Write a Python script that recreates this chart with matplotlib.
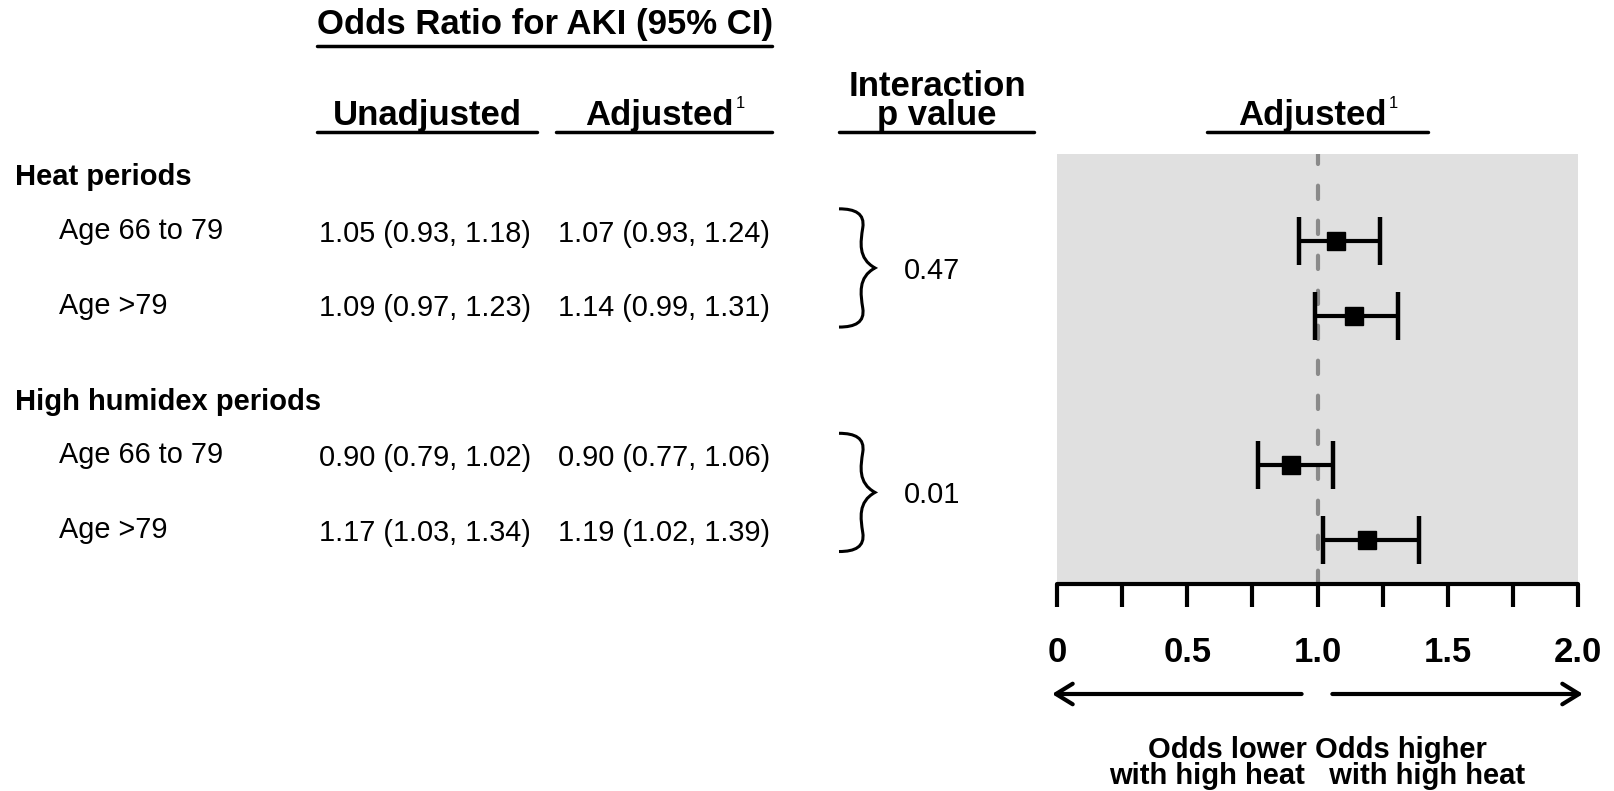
import matplotlib
matplotlib.use('Agg')
import matplotlib.pyplot as plt
import matplotlib.transforms as mtransforms
from matplotlib.path import Path
from matplotlib.patches import PathPatch, FancyArrowPatch
import numpy as np

plt.rcParams['font.family'] = ['Liberation Sans', 'DejaVu Sans']

# ---------------- data ----------------
groups = ['Heat periods', 'High humidex periods']
subgroups = ['Age 66 to 79', 'Age >79', 'Age 66 to 79', 'Age >79']
unadj_or = [1.05, 1.09, 0.90, 1.17]
unadj_lo = [0.93, 0.97, 0.79, 1.03]
unadj_hi = [1.18, 1.23, 1.02, 1.34]
adj_or = [1.07, 1.14, 0.90, 1.19]
adj_lo = [0.93, 0.99, 0.77, 1.02]
adj_hi = [1.24, 1.31, 1.06, 1.39]
p_interaction = ['0.47', '0.01']
row_pos = [1, 2, 4, 5]
group_pos = [0.12, 3.12]
pair_rows = [(1, 2), (4, 5)]
xticks = [0, 0.25, 0.5, 0.75, 1.0, 1.25, 1.5, 1.75, 2.0]
xticklabels = ['0', '', '0.5', '', '1.0', '', '1.5', '', '2.0']

W, H = 1614, 791
fig = plt.figure(figsize=(W / 100, H / 100), dpi=100)

# forest panel
px0, px1, py0, py1 = 1057, 1578, 154, 584
ax = fig.add_axes([px0 / W, 1 - py1 / H, (px1 - px0) / W, (py1 - py0) / H])
ax.set_facecolor('#e0e0e0')
ax.set_xlim(0, 2)
ax.set_ylim(5.584, -0.163)
ax.axvline(1.0, color='#8a8a8a', lw=3, linestyle=(0, (3.2, 5.2)),
           dash_capstyle='round', zorder=1)
xerr = [np.subtract(adj_or, adj_lo), np.subtract(adj_hi, adj_or)]
ax.errorbar(adj_or, row_pos, xerr=xerr, fmt='s', color='black', ms=13,
            elinewidth=3, capsize=17, capthick=3.2, zorder=3)
for s in ['top', 'left', 'right']:
    ax.spines[s].set_visible(False)
ax.spines['bottom'].set_linewidth(3)
ax.spines['bottom'].set_capstyle('round')
ax.set_yticks([])
ax.set_xticks(xticks)
ax.set_xticklabels(xticklabels, fontsize=25, fontweight='bold')
ax.tick_params(axis='x', direction='out', length=16.5, width=3, pad=21)

# overlay pixel axes for text
tax = fig.add_axes([0, 0, 1, 1])
tax.set_xlim(0, W)
tax.set_ylim(H, 0)
tax.axis('off')
tax.patch.set_visible(False)
tax.set_zorder(2)

# blended: x in pixels, y in forest data
bt = mtransforms.blended_transform_factory(tax.transData, ax.transData)
# blended: x in forest data, y in pixels
bt2 = mtransforms.blended_transform_factory(ax.transData, tax.transData)


def off(dy_px):
    return mtransforms.offset_copy(bt, fig=fig, x=0, y=-dy_px, units='dots')


hdr = dict(fontsize=25, fontweight='bold')
txt = dict(fontsize=20.8)

# headers
tax.text(545, 34, 'Odds Ratio for AKI (95% CI)', ha='center', va='baseline', **hdr)
tax.plot([317, 772], [46, 46], color='black', lw=2.5, solid_capstyle='round')

tax.text(427, 125, 'Unadjusted', ha='center', va='baseline', **hdr)
tax.plot([317, 537], [132, 132], color='black', lw=2.5, solid_capstyle='round')


def adjusted_header(xc):
    t = tax.text(xc - 5, 125, 'Adjusted', ha='center', va='baseline', **hdr)
    tax.annotate('1', xy=(1, 1), xycoords=t, xytext=(1.5, 2.5),
                 textcoords='offset points', ha='left', va='top', fontsize=12)


adjusted_header(664)
tax.plot([556, 772], [132, 132], color='black', lw=2.5, solid_capstyle='round')

tax.text(937, 125, 'Interaction\np value', ha='center', va='baseline',
         multialignment='center', linespacing=0.86, **hdr)
tax.plot([839, 1034], [132, 132], color='black', lw=2.5, solid_capstyle='round')

adjusted_header(1317)
tax.plot([1207, 1428], [132, 132], color='black', lw=2.5, solid_capstyle='round')

# group labels
for g, gp in zip(groups, group_pos):
    tax.text(15, gp, g, ha='left', va='baseline', fontsize=21,
             fontweight='bold', transform=off(10))

# rows
for lab, rp, uo, ul, uh, ao, al, ah in zip(subgroups, row_pos, unadj_or, unadj_lo,
                                            unadj_hi, adj_or, adj_lo, adj_hi):
    tax.text(59, rp, lab, ha='left', va='baseline', transform=off(-2), **txt)
    tax.text(319, rp, f'{uo:.2f} ({ul:.2f}, {uh:.2f})', ha='left',
             va='baseline', transform=off(0.5), **txt)
    tax.text(558, rp, f'{ao:.2f} ({al:.2f}, {ah:.2f})', ha='left',
             va='baseline', transform=off(0.5), **txt)

# braces + p values
bx0, bw = 839, 36
shape = [(0, 0), (0.45, 0), (0.72, 0.04), (0.66, 0.16),
         (0.60, 0.28), (0.52, 0.42), (1.0, 0.5),
         (0.52, 0.58), (0.60, 0.72), (0.66, 0.84),
         (0.72, 0.96), (0.45, 1.0), (0, 1)]
codes = [Path.MOVETO] + [Path.CURVE4] * 12
for (r0, r1), pv in zip(pair_rows, p_interaction):
    ytop = r0 - 0.43
    ybot = r1 + 0.15
    verts = [(bx0 + u * bw, ytop + v * (ybot - ytop)) for u, v in shape]
    tax.add_patch(PathPatch(Path(verts, codes), fill=False, lw=2.2,
                            edgecolor='black', transform=bt))
    tax.text(904, (ytop + ybot) / 2, pv, ha='left', va='center_baseline',
             transform=bt, **txt)

# arrows
ay = 694
for xa, xb in [(0.939, -0.019), (1.057, 2.019)]:
    tax.add_patch(FancyArrowPatch((xa, ay), (xb, ay), transform=bt2,
                                  arrowstyle='->,head_length=0.6,head_width=0.37',
                                  mutation_scale=20, lw=3, color='black',
                                  shrinkA=0, shrinkB=0, capstyle='round'))

tax.text(1.0, 758, 'Odds lower Odds higher', ha='center', va='baseline',
         transform=bt2, fontsize=21, fontweight='bold')
tax.text(1.0, 784, 'with high heat   with high heat', ha='center', va='baseline',
         transform=bt2, fontsize=21, fontweight='bold')

fig.savefig('out.png', dpi=100)
